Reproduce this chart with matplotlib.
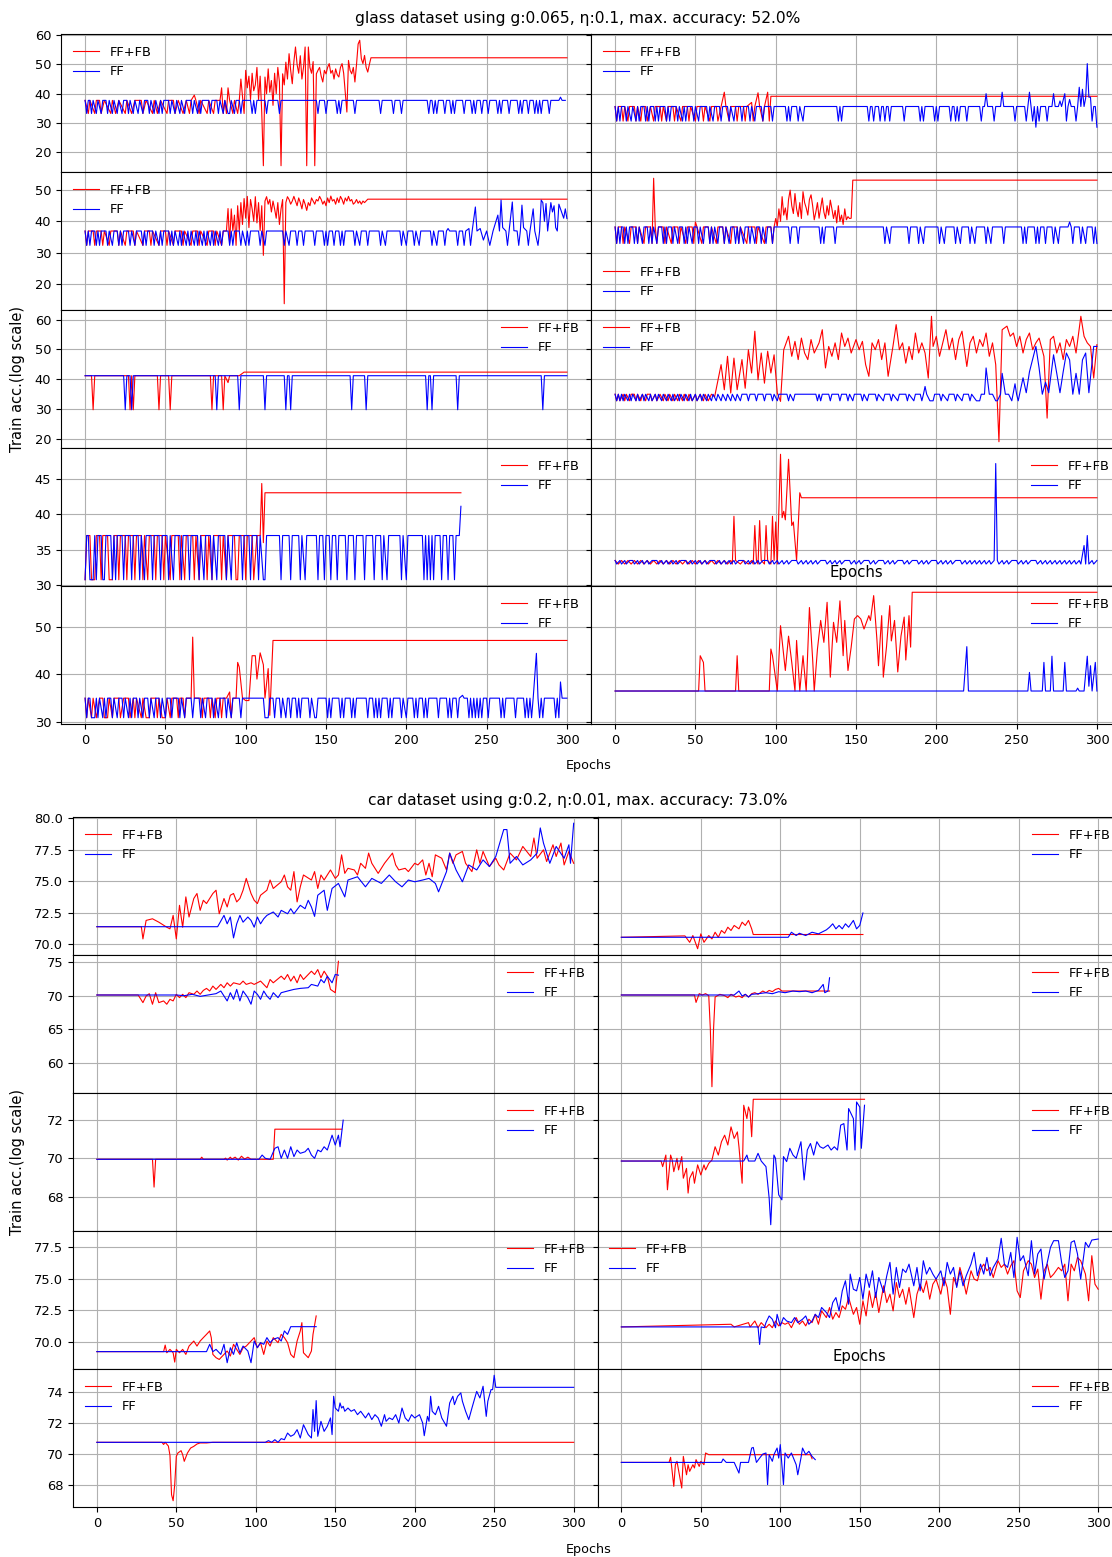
"""Train accuracy per epoch, FF vs FF+FB, for the glass and car datasets.

Two blocks of 5x2 panels, rows share the y axis. Values read off the
reference figure (epoch, accuracy) pairs.
"""
import matplotlib
matplotlib.use('Agg')
import matplotlib.pyplot as plt
import numpy as np

plt.rcParams['font.size'] = 9.4

W, H = 1112, 1557

# ---------------------------------------------------------------- glass data
g1l_fb = [(0,37.7),(2,33.2),(3,37.7),(6,33.2),(7,37.7),(9,37.7),(10,33.2),(12,37.7),(16,33.2),(17,37.7),(19,33.2),(21,37.7),(25,33.2),(26,37.7),(29,33.2),(31,37.7),(35,37.7),(36,33.2),(38,37.7),(42,33.2),(43,37.7),(45,33.2),(47,37.7),(51,33.2),(52,37.7),(55,37.7),(56,33.2),(58,37.7),(61,33.2),(63,37.7),(65,33.2),(66,37.7),(68,39.5),(69,37.7),(71,33.2),(72,37.7),(76,33.2),(77,37.7),(80,33.2),(81,37.7),(84,37.7),(85,42.0),(86,33.2),(87,37.7),(88,33.2),(89,42.0),(90,37.7),(92,33.2),(93,37.7),(95,33.2),(96,37.7),(97,45.0),(99,33.2),
          (100,48.0),(101,42.0),(102,46.0),(103,38.0),(104,47.0),(105,41.0),(106,43.0),(107,49.0),(108,38.0),(109,46.0),(110,33.5),(111,15.3),(112,45.7),(113,40.0),(114,48.5),(115,40.5),(116,44.5),(117,36.0),(118,47.0),(119,40.0),(120,49.0),(121,44.0),(122,15.3),(123,46.8),(124,43.0),(125,50.8),(126,45.0),(127,53.7),(128,48.0),(129,43.4),(130,51.0),(131,56.0),(132,50.0),(133,47.0),(134,53.0),(135,45.0),(136,49.0),(137,56.0),(138,15.3),(139,56.0),(140,49.0),(141,47.0),(142,51.0),(143,15.3),(144,46.8),(145,48.0),(146,49.0),(147,46.0),(148,44.0),(149,48.0),(150,46.8),(151,49.0),(152,50.3),(153,47.0),(154,48.0),(155,45.0),(156,48.5),(157,46.5),(158,45.7),(159,49.0),(160,50.3),(161,47.0),(162,40.5),(163,33.7),(164,51.4),(165,48.0),(166,46.8),(167,49.0),(168,44.0),(169,50.0),(170,57.0),(171,58.3),(172,52.0),(173,50.3),(174,53.1),(175,49.0),(176,47.4),(177,50.0),(178,52.3),(180,52.3),(300,52.3)]
g1l_ff = [(0,37.7),(1,33.2),(2,37.7),(3,37.7),(4,33.2),(5,37.7),(7,33.2),(8,37.7),(10,33.2),(11,37.7),(13,37.7),(14,33.2),(15,37.7),(17,33.2),(18,37.7),(20,33.2),(21,37.7),(23,33.2),(24,37.7),(26,37.7),(27,33.2),(28,37.7),(30,33.2),(31,37.7),(33,33.2),(34,37.7),(36,33.2),(37,37.7),(39,37.7),(40,33.2),(41,37.7),(43,33.2),(44,37.7),(46,33.2),(47,37.7),(48,33.2),(49,37.7),(52,37.7),(53,33.2),(54,37.7),(56,33.2),(57,37.7),(59,33.2),(60,37.7),(62,33.2),(63,37.7),(66,37.7),(67,33.2),(68,37.7),(70,33.2),(71,37.7),(72,33.2),(73,37.7),(77,37.7),(78,33.2),(79,37.7),(82,37.7),(83,33.2),(84,37.7),(86,33.2),(87,37.7),(89,33.2),(90,33.2),(91,37.7),(93,33.2),(94,37.7),(96,37.7),(97,33.2),(98,37.7),
          (103,37.7),(104,33.2),(105,37.7),(106,33.2),(107,37.7),(112,37.7),(113,33.2),(114,37.7),(120,37.7),(121,33.2),(122,37.7),(144,37.7),(145,33.2),(146,37.7),(149,37.7),(150,33.2),(151,37.7),(156,37.7),(157,33.2),(158,37.7),(159,33.2),(160,37.7),(167,37.7),(168,33.2),(169,37.7),(183,37.7),(184,33.2),(185,37.7),(191,37.7),(192,33.2),(193,37.7),(196,37.7),(197,33.2),(198,37.7),(213,37.7),(214,33.2),(215,37.7),(216,37.7),(217,33.2),(218,37.7),(219,33.2),(220,37.7),(223,37.7),(224,33.2),(225,37.7),(227,37.7),(228,33.2),(229,37.7),(230,33.2),(231,37.7),(235,37.7),(236,33.2),(237,37.7),(240,37.7),(241,33.2),(242,37.7),(243,33.2),(244,37.7),(246,37.7),(247,33.2),(248,37.7),(250,37.7),(251,33.2),(252,37.7),(256,37.7),(257,33.2),(258,37.7),(259,33.2),(260,37.7),(263,37.7),(264,33.2),(265,37.7),(269,37.7),(270,33.2),(271,37.7),(272,33.2),(273,37.7),(275,37.7),(276,33.2),(277,37.7),(279,37.7),(280,33.2),(281,37.7),(282,33.2),(283,37.7),(284,33.2),(285,37.7),(288,37.7),(289,33.2),(290,37.7),(295,37.7),(296,38.8),(297,37.7),(299,37.7)]

g1r_fb = [(0,35.6),(1,30.6),(2,35.6),(4,35.6),(5,30.6),(6,35.6),(8,30.6),(9,35.6),(12,35.6),(13,30.6),(14,35.6),(16,30.6),(17,35.6),(19,35.6),(20,30.6),(22,35.6),(24,30.6),(25,35.6),(28,35.6),(29,30.6),(30,35.6),(32,30.6),(33,35.6),(36,35.6),(37,30.6),(38,35.6),(41,30.6),(42,35.6),(45,35.6),(46,30.6),(47,35.6),(50,30.6),(51,35.6),(54,35.6),(55,30.6),(56,35.6),(59,30.6),(60,35.6),(63,35.6),(64,30.6),(66,35.6),(68,40.5),(69,35.6),(71,30.6),(72,35.6),(75,35.6),(76,30.6),(77,35.6),(80,35.6),(81,30.6),(82,35.6),(85,37.0),(86,30.6),(87,35.6),(89,40.3),(90,35.6),(92,30.6),(93,35.6),(95,40.5),(96,30.6),(97,39.1),(300,39.1)]
g1r_ff = [(0,35.6),(1,30.6),(2,35.6),(3,30.6),(4,35.6),(6,35.6),(7,30.6),(8,35.6),(10,30.6),(11,35.6),(13,30.6),(14,35.6),(15,30.6),(16,35.6),(18,35.6),(19,30.6),(20,35.6),(21,30.6),(22,35.6),(24,35.6),(25,30.6),(26,35.6),(27,30.6),(28,35.6),(31,35.6),(32,30.6),(33,35.6),(34,30.6),(35,35.6),(38,35.6),(39,30.6),(40,35.6),(42,30.6),(43,35.6),(44,30.6),(45,35.6),(48,35.6),(49,30.6),(50,35.6),(52,30.6),(53,35.6),(57,35.6),(58,30.6),(59,35.6),(61,30.6),(62,35.6),(65,35.6),(66,30.6),(67,35.6),(70,35.6),(71,30.6),(72,35.6),(74,30.6),(75,35.6),(78,35.6),(79,30.6),(80,35.6),(83,35.6),(84,30.6),(85,35.6),(87,30.6),(88,35.6),(91,35.6),(92,30.6),(93,35.6),(97,35.6),(98,30.6),(99,35.6),
          (106,35.6),(107,30.6),(108,35.6),(109,30.6),(110,35.6),(113,35.6),(114,30.6),(115,35.6),(117,30.6),(118,35.6),(138,35.6),(139,30.6),(140,35.6),(141,30.6),(142,35.6),(157,35.6),(158,30.6),(159,35.6),(160,35.6),(161,30.6),(162,35.6),(164,35.6),(165,30.6),(166,35.6),(167,35.6),(168,30.6),(169,35.6),(170,35.6),(171,30.6),(172,35.6),(179,35.6),(180,30.6),(181,35.6),(189,35.6),(190,30.6),(191,35.6),(192,30.6),(193,35.6),(198,35.6),(199,30.6),(200,35.6),(201,30.6),(202,35.6),(208,35.6),(209,30.6),(210,35.6),(211,35.6),(212,30.6),(213,35.6),(214,30.6),(215,35.6),(218,35.6),(219,30.6),(220,35.6),(227,35.6),(228,30.6),(229,35.6),(230,35.6),(231,40.0),(232,35.6),(235,35.6),(236,30.6),(237,35.6),(240,35.6),(241,40.5),(242,35.6),(248,35.6),(249,30.6),(250,35.6),(255,35.6),(256,30.6),(257,35.6),(258,40.5),(259,35.6),(260,30.6),(261,35.6),(262,28.5),(263,35.6),(264,30.6),(265,35.6),(268,35.6),(269,30.6),(270,35.6),(272,35.6),(273,40.0),(274,35.6),(276,35.6),(277,37.5),(278,35.6),(280,40.0),(281,30.6),(282,35.6),(283,38.0),(284,35.6),(286,35.6),(287,30.6),(288,35.6),(289,42.2),(290,35.6),(291,41.5),(292,35.6),(293,38.5),(294,50.3),(295,38.8),(296,38.8),(297,30.6),(298,35.6),(299,35.6),(300,28.5)]

g2l_fb = [(0,36.9),(1,32.3),(2,36.9),(5,36.9),(6,32.3),(7,36.9),(10,36.9),(11,32.3),(12,36.9),(15,32.3),(16,36.9),(20,36.9),(21,32.3),(22,36.9),(25,32.3),(26,36.9),(30,36.9),(31,32.3),(32,36.9),(36,32.3),(37,36.9),(40,36.9),(41,32.3),(42,36.9),(46,32.3),(47,36.9),(50,36.9),(51,32.3),(52,36.9),(55,32.3),(56,36.9),(60,36.9),(61,32.3),(62,36.9),(66,32.3),(67,36.9),(70,36.9),(71,32.3),(72,36.9),(76,32.3),(77,36.9),(80,36.9),(81,32.3),(82,36.9),(85,32.3),(86,36.9),(88,36.9),
          (89,44.1),(90,33.0),(91,44.0),(92,36.9),(93,42.0),(94,32.3),(95,45.0),(96,36.9),(97,46.0),(98,39.0),(99,47.3),(100,41.0),(101,48.0),(102,38.0),(103,47.0),(104,44.0),(105,40.0),(106,47.9),(107,39.5),(108,46.0),(109,37.0),(110,45.0),(111,29.1),(112,46.5),(113,47.9),(114,45.5),(115,47.0),(116,43.0),(117,46.5),(118,44.0),(119,41.0),(120,46.0),(121,39.0),(122,44.0),(123,47.0),(124,13.6),(125,46.0),(126,47.9),(127,47.0),(128,45.5),(129,46.5),(130,48.0),(131,46.5),(132,45.0),(133,47.5),(134,46.0),(135,44.0),(136,47.0),(137,45.5),(138,43.5),(139,46.0),(140,45.0),(141,47.5),(142,46.5),(143,45.5),(144,47.0),(145,46.5),(146,48.0),(147,47.0),(148,45.5),(149,46.5),(150,45.0),(151,47.5),(152,46.0),(153,48.1),(154,46.5),(155,47.0),(156,45.5),(157,47.5),(158,46.0),(159,48.0),(160,47.0),(161,45.5),(162,47.5),(163,46.5),(164,48.0),(165,46.5),(166,47.0),(167,45.5),(168,46.0),(169,47.0),(170,45.8),(171,46.5),(172,45.5),(173,46.5),(174,46.0),(176,47.1),(300,47.1)]
g2l_ff = [(0,36.9),(1,32.3),(2,36.9),(3,32.3),(4,36.9),(6,36.9),(7,32.3),(8,36.9),(9,32.3),(10,36.9),(13,36.9),(14,32.3),(15,36.9),(17,32.3),(18,36.9),(20,36.9),(21,32.3),(22,36.9),(23,32.3),(24,36.9),(27,36.9),(28,32.3),(29,36.9),(31,32.3),(32,36.9),(35,36.9),(36,32.3),(37,36.9),(38,32.3),(39,36.9),(42,36.9),(43,32.3),(44,36.9),(46,32.3),(47,36.9),(48,32.3),(49,36.9),(52,36.9),(53,32.3),(54,36.9),(55,32.3),(56,36.9),(58,32.3),(59,36.9),(60,32.3),(61,36.9),(63,32.3),(64,36.9),(65,32.3),(66,36.9),(68,32.3),(69,36.9),(70,32.3),(71,36.9),(73,32.3),(74,36.9),(75,32.3),(76,36.9),(78,32.3),(79,36.9),(80,32.3),(81,36.9),(83,32.3),(84,36.9),(85,32.3),(86,36.9),(89,36.9),(90,32.3),(91,36.9),(92,32.3),(93,36.9),(96,36.9),(97,32.3),(98,36.9),(100,32.3),(101,36.9),(102,32.3),(103,36.9),
          (108,36.9),(109,32.3),(110,36.9),(112,32.3),(113,36.9),(123,36.9),(124,32.3),(125,36.9),(127,32.3),(128,36.9),(131,36.9),(132,32.3),(133,36.9),(135,36.9),(136,32.3),(137,36.9),(142,36.9),(143,32.3),(144,36.9),(148,36.9),(149,32.3),(150,36.9),(151,32.3),(152,36.9),(154,36.9),(155,32.3),(156,36.9),(158,36.9),(159,32.3),(160,36.9),(161,32.3),(162,36.9),(167,36.9),(168,32.3),(169,36.9),(171,32.3),(172,36.9),(175,36.9),(176,32.3),(177,36.9),(183,36.9),(184,32.3),(185,36.9),(187,32.3),(188,36.9),(196,36.9),(197,32.3),(198,36.9),(200,32.3),(201,36.9),(204,36.9),(205,32.3),(206,36.9),(208,32.3),(209,36.9),(215,36.9),(216,32.3),(217,36.9),(219,32.3),(220,36.9),(223,36.9),(224,32.3),(225,36.9),(226,37.7),(227,36.9),(231,36.9),(232,32.3),(233,36.9),(235,36.9),(236,32.3),(237,36.9),(239,37.7),(240,32.3),(241,36.9),
          (243,44.6),(244,36.9),(246,37.7),(248,34.0),(250,36.9),(252,32.3),(254,36.9),(257,42.0),(258,36.9),(259,46.8),(260,38.0),(262,36.9),(263,32.3),(264,36.9),(266,46.2),(267,37.0),(269,36.9),(270,32.3),(271,36.9),(272,45.2),(273,38.0),(275,36.9),(276,32.3),(277,36.9),(279,44.0),(280,36.9),(282,32.3),(283,36.9),(284,46.8),(285,46.0),(286,40.0),(287,45.7),(288,36.9),(290,46.0),(291,43.0),(292,45.0),(293,38.0),(294,36.9),(295,45.5),(296,44.0),(298,41.0),(299,44.0),(300,40.9)]

g2r_fb = [(0,38.2),(1,32.9),(2,38.2),(4,38.2),(5,32.9),(6,38.2),(9,32.9),(10,38.2),(13,38.2),(14,32.9),(15,38.2),(18,32.9),(19,38.2),(22,38.2),(23,32.9),(24,53.8),(25,38.2),(26,32.9),(27,38.2),(30,38.2),(31,32.9),(32,38.2),(35,32.9),(36,38.2),(39,38.2),(40,32.9),(41,38.2),(44,32.9),(45,38.2),(48,38.2),(49,32.9),(50,39.8),(51,38.2),(54,32.9),(55,38.2),(58,38.2),(59,32.9),(60,38.2),(63,32.9),(64,38.2),(67,38.2),(68,32.9),(69,38.2),(72,32.9),(73,38.2),(76,38.2),(77,32.9),(78,38.2),(82,32.9),(83,38.2),(87,38.2),(88,32.9),(89,38.2),(93,32.9),(94,38.2),(97,38.2),(98,32.9),(99,38.2),
          (100,40.9),(101,38.5),(102,44.0),(103,40.0),(104,47.9),(105,42.0),(106,44.3),(107,40.5),(108,47.0),(109,50.0),(110,45.0),(111,42.5),(112,48.9),(113,44.0),(114,41.5),(115,46.0),(116,40.9),(117,49.5),(118,46.0),(119,44.3),(120,42.0),(121,47.0),(122,48.5),(123,45.0),(124,40.5),(125,43.0),(126,46.0),(127,41.0),(128,44.3),(129,47.5),(130,43.0),(131,40.9),(132,45.0),(133,42.0),(134,46.8),(135,44.0),(136,40.9),(137,43.5),(138,39.5),(139,45.0),(140,40.0),(141,42.0),(142,39.0),(143,44.0),(144,40.5),(145,41.5),(146,40.9),(147,41.0),(148,53.2),(300,53.2)]
g2r_ff = [(0,38.2),(1,32.9),(2,38.2),(3,32.9),(4,38.2),(5,38.2),(6,32.9),(7,38.2),(8,32.9),(9,38.2),(11,38.2),(12,32.9),(13,38.2),(14,32.9),(15,38.2),(17,32.9),(18,38.2),(20,38.2),(21,32.9),(22,38.2),(23,32.9),(24,38.2),(26,32.9),(27,38.2),(29,38.2),(30,32.9),(31,38.2),(32,32.9),(33,38.2),(35,38.2),(36,32.9),(37,38.2),(39,32.9),(40,38.2),(42,38.2),(43,32.9),(44,38.2),(45,32.9),(46,38.2),(48,32.9),(49,38.2),(51,38.2),(52,32.9),(53,38.2),(55,32.9),(56,38.2),(58,38.2),(59,32.9),(60,38.2),(61,32.9),(62,38.2),(64,32.9),(65,38.2),(67,38.2),(68,32.9),(69,38.2),(71,32.9),(72,38.2),(74,38.2),(75,32.9),(76,38.2),(77,32.9),(78,38.2),(80,32.9),(81,38.2),(83,38.2),(84,32.9),(85,38.2),(87,32.9),(88,38.2),(90,38.2),(91,32.9),(92,38.2),(94,32.9),(95,38.2),(97,38.2),(98,32.9),(99,38.2),
          (108,38.2),(109,32.9),(110,38.2),(113,38.2),(114,32.9),(115,38.2),(127,38.2),(128,32.9),(129,38.2),(130,32.9),(131,38.2),(136,38.2),(137,32.9),(138,38.2),(167,38.2),(168,32.9),(169,38.2),(171,32.9),(172,38.2),(182,38.2),(183,32.9),(184,38.2),(188,38.2),(189,32.9),(190,38.2),(192,32.9),(193,38.2),(201,38.2),(202,32.9),(203,38.2),(205,32.9),(206,38.2),(211,38.2),(212,32.9),(213,38.2),(215,32.9),(216,38.2),(220,38.2),(221,32.9),(222,38.2),(224,32.9),(225,38.2),(230,38.2),(231,32.9),(232,38.2),(234,32.9),(235,38.2),(241,38.2),(242,32.9),(243,38.2),(253,38.2),(254,32.9),(255,38.2),(256,32.9),(257,38.2),(261,38.2),(262,32.9),(263,38.2),(264,32.9),(265,38.2),(267,38.2),(268,32.9),(269,38.2),(272,38.2),(273,32.9),(274,38.2),(276,32.9),(277,38.2),(282,38.2),(283,39.8),(284,38.2),(285,32.9),(286,38.2),(289,38.2),(290,32.9),(291,38.2),(293,32.9),(294,38.2),(297,38.2),(298,32.9),(299,38.2),(300,32.9)]

g3l_fb = [(0,41.2),(4,41.2),(5,29.8),(6,41.2),(27,41.2),(28,29.8),(29,41.2),(30,29.8),(31,41.2),(45,41.2),(46,29.8),(47,41.2),(52,41.2),(53,29.8),(54,41.2),(78,41.2),(79,29.8),(80,41.2),(85,41.2),(86,29.8),(87,41.2),(89,38.9),(90,41.2),(96,41.2),(99,42.4),(300,42.4)]
g3l_ff = [(0,41.2),(24,41.2),(25,29.8),(26,41.2),(28,41.2),(29,29.8),(30,41.2),(81,41.2),(82,29.8),(83,41.2),(95,41.2),(96,29.8),(97,41.2),(111,41.2),(112,29.8),(113,41.2),(124,41.2),(125,29.8),(126,41.2),(127,41.2),(128,29.8),(129,41.2),(165,41.2),(166,29.8),(167,41.2),(174,41.2),(175,29.8),(176,41.2),(212,41.2),(213,29.8),(214,41.2),(215,41.2),(216,29.8),(217,41.2),(231,41.2),(232,29.8),(233,41.2),(284,41.2),(285,29.8),(286,41.2),(300,41.2)]

g3r_fb = [(0,35.0),(1,32.8),(2,35.0),(3,32.8),(5,35.0),(6,32.8),(7,35.0),(9,32.8),(10,35.0),(12,35.0),(13,32.8),(14,35.0),(16,32.8),(17,35.0),(19,32.8),(20,35.0),(22,35.0),(23,32.8),(25,35.0),(26,32.8),(28,35.0),(30,32.8),(31,35.0),(33,32.8),(34,35.0),(36,32.8),(37,35.0),(39,32.8),(40,35.0),(42,32.8),(43,35.0),(45,32.8),(46,35.0),(48,32.8),(50,35.0),(51,32.8),(53,35.0),(55,32.8),(56,35.0),(58,32.8),(60,35.0),(62,34.2),
          (66,44.9),(68,36.5),(70,47.7),(72,35.4),(74,47.1),(76,36.5),(79,46.6),(81,37.0),(83,49.9),(85,42.1),(87,56.1),(89,39.8),(91,48.8),(93,38.7),(95,49.4),(97,42.1),(99,48.2),(101,35.4),(103,32.6),(105,49.9),(108,54.4),(110,47.7),(112,52.7),(114,46.6),(116,53.8),(118,48.8),(120,46.6),(122,53.3),(124,48.8),(127,52.2),(129,56.6),(131,43.8),(133,51.0),(135,47.7),(137,52.2),(139,46.6),(141,55.5),(143,51.0),(145,53.8),(147,48.8),(150,53.3),(152,49.9),(154,52.7),(156,44.9),(158,41.0),(160,52.2),(162,49.9),(164,53.3),(166,46.6),(168,52.2),(170,41.0),(173,51.0),(175,58.3),(177,49.9),(179,52.2),(181,45.4),(183,51.0),(185,46.6),(187,55.5),(189,48.8),(191,52.2),(193,48.8),(195,40.4),(197,61.1),(198,51.0),(200,54.4),(202,47.7),(204,52.2),(206,56.6),(208,49.9),(210,53.8),(212,46.6),(214,53.3),(216,56.1),(219,44.3),(221,52.2),(223,54.4),(225,48.8),(227,53.3),(229,51.0),(231,55.5),(233,47.7),(235,52.2),(237,44.9),(239,19.1),(241,56.6),(244,57.8),(246,54.4),(248,55.5),(250,51.0),(252,54.4),(254,48.8),(256,53.3),(258,55.5),(260,49.9),(262,52.2),(264,53.8),(267,47.7),(269,27.0),(271,53.3),(273,54.4),(275,48.8),(277,52.2),(279,46.6),(281,53.3),(283,51.0),(285,54.4),(287,48.8),(290,61.1),(292,54.4),(294,52.2),(296,51.0),(298,40.4),(300,51.6)]
g3r_ff = [(0,35.0),(1,32.8),(2,35.0),(3,32.8),(4,35.0),(5,32.8),(6,35.0),(8,32.8),(9,35.0),(10,32.8),(11,35.0),(13,32.8),(14,35.0),(15,32.8),(17,35.0),(18,32.8),(19,35.0),(21,32.8),(22,35.0),(23,32.8),(25,35.0),(26,32.8),(27,35.0),(29,32.8),(30,35.0),(32,32.8),(33,35.0),(35,32.8),(36,35.0),(37,32.8),(39,35.0),(40,32.8),(41,35.0),(43,32.8),(44,35.0),(46,32.8),(47,35.0),(48,32.8),(50,35.0),(51,32.8),(53,35.0),(54,32.8),(55,35.0),(57,32.8),(58,35.0),(60,32.8),(61,35.0),(63,32.8),(64,35.0),(66,32.8),(67,35.0),(69,32.8),(70,35.0),(72,32.8),(73,35.0),(75,32.8),(76,35.0),(78,32.8),(79,35.0),(82,35.0),(83,32.8),(84,35.0),(87,35.0),(88,32.8),(89,35.0),(92,35.0),(93,32.8),(94,35.0),(97,35.0),(98,32.8),(99,35.0),(101,32.8),(102,35.0),
          (107,35.0),(108,32.8),(109,35.0),(111,32.8),(112,35.0),(125,35.0),(126,32.8),(127,35.0),(128,32.8),(129,35.0),(133,35.0),(134,32.8),(135,35.0),(139,35.0),(140,32.8),(141,35.0),(144,35.0),(145,32.8),(146,35.0),(148,32.8),(149,35.0),(153,35.0),(154,32.8),(155,35.0),(157,32.8),(158,35.0),(162,35.0),(163,32.8),(164,35.0),(167,32.8),(168,35.0),(171,35.0),(172,32.8),(173,35.0),(176,32.8),(177,35.0),(181,35.0),(182,32.8),(183,35.0),(186,32.8),(187,35.0),(190,35.0),(191,32.8),(192,35.0),(193,37.6),(194,35.0),(196,32.8),(198,32.8),(199,35.0),(202,35.0),(203,32.8),(204,35.0),(207,32.8),(208,35.0),(211,35.0),(212,32.8),(213,35.0),(216,32.8),(217,35.0),(220,35.0),(221,32.8),(222,35.0),(225,32.8),(227,32.8),(228,35.0),(230,35.0),
          (231,43.8),(233,35.0),(235,35.0),(237,32.8),(238,32.8),(240,35.0),(241,42.0),(243,35.0),(245,35.0),(247,32.8),(249,38.5),(250,35.0),(251,32.8),(254,40.5),(256,35.5),(258,42.5),(262,51.0),(264,43.8),(266,35.0),(268,39.0),(270,35.5),(273,48.2),(275,42.0),(277,35.5),(279,42.5),(281,48.8),(283,46.5),(285,35.0),(287,42.0),(289,35.0),(291,46.5),(293,48.8),(295,35.5),(298,51.0),(300,51.0)]

g4l_fb = [(0,30.8),(1,37.0),(3,37.0),(4,30.8),(6,30.8),(7,37.0),(9,37.0),(10,30.8),(11,37.0),(14,37.0),(15,30.8),(17,30.8),(18,37.0),(20,37.0),(21,30.8),(22,37.0),(25,37.0),(26,30.8),(27,37.0),(30,37.0),(31,30.8),(32,37.0),(35,37.0),(36,30.8),(37,37.0),(39,30.8),(40,37.0),(43,37.0),(44,30.8),(45,37.0),(48,37.0),(49,30.8),(50,37.0),(53,30.8),(54,37.0),(58,37.0),(59,30.8),(60,37.0),(62,30.8),(63,37.0),(67,37.0),(68,30.8),(69,37.0),(71,30.8),(72,37.0),(75,37.0),(76,30.8),(77,37.0),(79,30.8),(80,37.0),(84,37.0),(85,30.8),(86,37.0),(88,30.8),(89,37.0),(93,37.0),(94,30.8),(95,30.8),(96,37.0),(99,37.0),(100,30.8),(101,37.0),(104,37.0),(105,30.8),(107,37.0),(109,37.0),(110,44.3),(111,36.0),(112,43.0),(234,43.0)]
g4l_ff = [(0,30.8),(1,37.0),(2,37.0),(3,30.8),(5,30.8),(6,37.0),(7,30.8),(8,37.0),(10,37.0),(11,30.8),(12,30.8),(13,37.0),(16,37.0),(17,30.8),(18,37.0),(19,30.8),(20,37.0),(23,37.0),(24,30.8),(25,37.0),(28,37.0),(29,30.8),(30,37.0),(33,37.0),(34,30.8),(35,37.0),(37,30.8),(38,37.0),(41,37.0),(42,30.8),(43,37.0),(46,37.0),(47,30.8),(48,37.0),(51,37.0),(52,30.8),(53,37.0),(55,30.8),(56,37.0),(59,37.0),(60,30.8),(61,37.0),(64,37.0),(65,30.8),(66,37.0),(70,37.0),(71,30.8),(72,37.0),(74,30.8),(75,37.0),(78,37.0),(79,30.8),(80,37.0),(82,30.8),(83,37.0),(87,37.0),(88,30.8),(89,37.0),(91,30.8),(92,37.0),(97,37.0),(98,30.8),(99,37.0),(102,37.0),(103,30.8),(104,37.0),(107,37.0),(108,30.8),(109,37.0),(111,30.8),(112,30.8),(113,37.0),
          (121,37.0),(122,30.8),(123,37.0),(127,37.0),(128,30.8),(129,37.0),(133,37.0),(134,30.8),(135,37.0),(137,30.8),(138,37.0),(144,37.0),(145,30.8),(146,37.0),(148,37.0),(149,30.8),(150,37.0),(152,37.0),(153,30.8),(154,37.0),(156,37.0),(157,30.8),(158,37.0),(162,37.0),(163,30.8),(164,37.0),(167,37.0),(168,30.8),(169,37.0),(173,37.0),(174,30.8),(175,37.0),(179,37.0),(180,30.8),(181,37.0),(184,37.0),(185,30.8),(186,37.0),(188,30.8),(189,37.0),(196,37.0),(197,30.8),(198,37.0),(200,30.8),(201,37.0),(210,37.0),(211,30.8),(212,37.0),(213,30.8),(214,37.0),(215,30.8),(216,37.0),(217,30.8),(218,37.0),(221,37.0),(222,30.8),(223,37.0),(225,37.0),(226,30.8),(227,37.0),(229,37.0),(230,30.8),(231,37.0),(233,37.0),(234,41.1)]

g4r_fb = [(0,33.5),(2,33.0),(4,33.5),(6,33.0),(8,33.5),(10,33.0),(12,33.5),(14,33.0),(16,33.5),(18,33.0),(20,33.5),(22,33.0),(24,33.5),(26,33.0),(28,33.5),(30,33.0),(32,33.5),(34,33.0),(36,33.5),(38,33.0),(40,33.5),(42,33.0),(44,33.5),(46,33.0),(48,33.5),(50,33.0),(52,33.5),(54,33.0),(56,33.5),(58,33.0),(60,33.5),(62,33.0),(64,33.5),(66,33.0),(68,33.5),(70,33.0),(72,33.5),(73,33.0),(74,39.7),(75,33.5),(78,33.0),(80,33.5),(83,33.0),(85,33.5),(86,33.0),(87,38.4),(88,33.5),(89,33.0),(90,39.1),(91,33.5),(93,33.0),(94,38.4),(95,33.5),(97,33.0),(98,39.7),(99,33.5),(100,38.9),(101,33.0),(103,48.4),(104,39.5),(105,40.4),(106,39.2),(108,47.7),(110,38.4),(111,38.9),(113,33.5),(115,43.0),(116,42.3),(300,42.3)]
g4r_ff = [(0,33.5),(1,33.0),(3,33.5),(4,33.0),(6,33.5),(7,33.0),(9,33.5),(11,33.5),(12,33.0),(14,33.5),(15,33.0),(17,33.5),(18,33.0),(20,33.5),(21,33.0),(23,33.5),(26,33.5),(27,33.0),(29,33.5),(30,33.0),(32,33.5),(33,33.0),(35,33.5),(36,33.0),(38,33.5),(39,33.0),(41,33.5),(44,33.5),(45,33.0),(47,33.5),(48,33.0),(50,33.5),(51,33.0),(53,33.5),(54,33.0),(56,33.5),(57,33.0),(59,33.5),(62,33.5),(63,33.0),(65,33.5),(66,33.0),(68,33.5),(69,33.0),(71,33.5),(72,33.0),(74,33.5),(75,33.0),(77,33.5),(80,33.5),(81,33.0),(83,33.5),(84,33.0),(86,33.5),(87,33.0),(89,33.5),(90,33.0),(92,33.5),(95,33.5),(96,33.0),(98,33.5),(99,33.0),(101,33.5),(102,33.0),(104,33.5),(105,33.0),(107,33.5),(108,33.0),(110,33.5),(113,33.5),(114,33.0),(116,33.5),(117,33.0),(119,33.5),(120,33.0),(122,33.5),(123,33.0),(125,33.5),(126,33.0),(128,33.5),(131,33.5),(132,33.0),(134,33.5),(135,33.0),(137,33.5),(138,33.0),(140,33.5),(141,33.0),(143,33.5),(146,33.5),(147,33.0),(149,33.5),(150,33.0),(152,33.5),(153,33.0),(155,33.5),(158,33.5),(159,33.0),(161,33.5),(162,33.0),(164,33.5),(167,33.5),(168,33.0),(170,33.5),(171,33.0),(173,33.5),(174,33.0),(176,33.5),(179,33.5),(180,33.0),(182,33.5),(183,33.0),(185,33.5),(188,33.5),(189,33.0),(191,33.5),(192,33.0),(194,33.5),(195,33.0),(197,33.5),(200,33.5),(201,33.0),(203,33.5),(204,33.0),(206,33.5),(207,33.0),(209,33.5),(210,33.0),(212,33.5),(215,33.5),(216,33.0),(218,33.5),(219,33.0),(221,33.5),(222,33.0),(224,33.5),(225,33.0),(227,33.5),(228,33.0),(230,33.5),(231,33.0),(233,33.5),(234,33.0),(236,33.5),(237,47.1),(238,33.5),(239,33.0),(241,33.5),(242,33.0),(244,33.5),(245,33.0),(247,33.5),(250,33.5),(251,33.0),(253,33.5),(254,33.0),(256,33.5),(257,33.0),(259,33.5),(262,33.5),(263,33.0),(265,33.5),(266,33.0),(268,33.5),(269,33.0),(271,33.5),(272,33.0),(274,33.5),(275,33.0),(277,33.5),(278,33.0),(280,33.5),(281,33.0),(283,33.5),(284,33.0),(286,33.5),(287,33.0),(289,33.5),(290,33.0),(292,35.6),(293,33.0),(294,37.0),(295,33.0),(297,33.5),(298,33.0),(300,33.5)]

g5l_fb = [(0,35.0),(1,30.9),(2,35.0),(4,30.9),(5,35.0),(7,30.9),(9,35.0),(11,35.0),(12,30.9),(14,30.9),(15,35.0),(17,30.9),(18,35.0),(21,35.0),(22,30.9),(24,35.0),(27,35.0),(28,30.9),(30,35.0),(31,30.9),(32,35.0),(35,30.9),(36,35.0),(38,30.9),(40,30.9),(41,35.0),(44,35.0),(45,30.9),(46,35.0),(48,30.9),(50,30.9),(51,35.0),(53,30.9),(54,35.0),(57,35.0),(58,30.9),(59,35.0),(61,35.0),(62,30.9),(63,35.0),(66,35.0),(67,47.8),(68,35.0),(72,35.0),(73,30.9),(74,35.0),(77,35.0),(78,30.9),(79,35.0),(81,30.9),(82,35.0),(84,35.0),(85,30.9),(86,35.0),(88,35.0),(90,36.3),(91,30.9),(92,35.0),(94,35.0),(95,42.5),(96,41.5),(98,35.0),(100,34.5),(102,34.5),(104,43.9),(106,43.9),(107,39.0),(109,44.5),(111,42.0),(112,35.0),(114,41.2),(115,31.4),(117,47.1),(300,47.1)]
g5l_ff = [(0,35.0),(1,30.9),(2,35.0),(3,35.0),(4,30.9),(6,30.9),(7,35.0),(8,30.9),(9,35.0),(11,30.9),(12,35.0),(13,30.9),(14,35.0),(16,35.0),(17,30.9),(18,35.0),(20,30.9),(21,35.0),(23,35.0),(24,30.9),(25,35.0),(27,30.9),(28,35.0),(29,30.9),(30,35.0),(32,35.0),(33,30.9),(34,35.0),(36,30.9),(37,35.0),(39,35.0),(40,30.9),(41,35.0),(43,30.9),(44,35.0),(46,35.0),(47,30.9),(48,35.0),(50,30.9),(51,35.0),(53,35.0),(54,30.9),(55,35.0),(58,35.0),(59,30.9),(60,35.0),(62,30.9),(63,35.0),(66,35.0),(67,30.9),(68,35.0),(71,35.0),(72,30.9),(73,35.0),(75,30.9),(76,35.0),(79,35.0),(80,30.9),(81,35.0),(83,30.9),(84,35.0),(87,35.0),(88,30.9),(89,35.0),(91,30.9),(92,35.0),(96,35.0),(97,30.9),(98,35.0),(100,35.0),(111,35.0),(112,30.9),(114,30.9),(115,35.0),
          (117,35.0),(118,30.9),(119,35.0),(121,35.0),(122,30.9),(123,35.0),(125,30.9),(126,35.0),(127,35.0),(128,30.9),(129,35.0),(131,35.0),(132,30.9),(133,35.0),(134,30.9),(135,35.0),(139,35.0),(140,30.9),(141,35.0),(143,30.9),(144,30.9),(145,35.0),(150,35.0),(151,30.9),(152,35.0),(153,30.9),(154,35.0),(158,35.0),(159,30.9),(160,35.0),(161,30.9),(162,35.0),(165,35.0),(166,30.9),(167,35.0),(168,30.9),(169,35.0),(175,35.0),(176,30.9),(177,35.0),(179,35.0),(180,30.9),(181,35.0),(182,30.9),(183,35.0),(184,30.9),(185,35.0),(188,35.0),(189,30.9),(190,35.0),(191,30.9),(192,35.0),(196,35.0),(197,30.9),(198,35.0),(200,30.9),(201,35.0),(204,35.0),(205,30.9),(206,35.0),(207,30.9),(208,35.0),(210,35.0),(211,30.9),(212,35.0),(213,30.9),(214,35.0),(219,35.0),(220,30.9),(221,35.0),(225,35.0),(226,30.9),(227,35.0),(228,30.9),(229,35.0),(231,35.0),(232,30.9),(233,35.0),(235,35.6),(236,35.0),(238,35.0),(239,30.9),(240,35.0),(241,30.9),(242,35.0),(243,30.9),(244,35.0),(245,30.9),(246,35.0),(247,30.9),(248,35.0),(250,35.0),(251,30.9),(252,35.0),(258,35.0),(259,30.9),(260,35.0),(261,30.9),(262,35.0),(267,35.0),(268,30.9),(269,35.0),(273,35.0),(274,30.9),(275,35.0),(276,30.9),(277,35.0),(278,30.9),(279,35.0),(281,44.4),(282,35.0),(283,30.9),(284,35.0),(285,30.9),(286,35.0),(292,35.0),(293,30.9),(294,35.0),(295,30.9),(296,38.4),(297,35.0),(300,35.0)]

g5r_fb = [(0,36.5),(52,36.5),(53,43.9),(55,42.5),(56,36.5),(75,36.5),(76,43.9),(77,36.5),(96,36.5),(97,45.3),(98,43.9),(101,36.5),(103,50.2),(106,40.8),(108,48.0),(110,42.5),(112,36.5),(113,47.1),(115,36.5),(117,43.9),(119,36.5),(121,54.0),(123,43.2),(124,36.5),(126,45.3),(128,51.3),(130,46.7),(132,55.1),(134,39.4),(136,50.9),(138,46.7),(140,55.4),(142,43.9),(143,51.3),(145,40.8),(147,45.7),(149,51.6),(151,52.3),(153,51.6),(155,49.5),(158,52.3),(159,51.3),(161,56.5),(163,47.4),(164,41.8),(166,52.3),(167,39.4),(169,45.8),(171,54.4),(172,47.0),(174,51.3),(176,40.5),(178,48.0),(180,52.0),(181,43.0),(183,52.3),(184,45.7),(185,57.2),(300,57.2)]
g5r_ff = [(0,36.5),(217,36.5),(219,45.8),(220,36.5),(257,36.5),(258,40.4),(259,36.5),(266,36.5),(267,42.5),(268,36.5),(271,36.5),(272,43.8),(273,36.5),(279,36.5),(280,42.5),(281,36.5),(287,36.5),(288,37.1),(289,36.5),(292,36.5),(294,43.8),(295,37.5),(296,41.8),(297,36.5),(299,42.5),(300,36.5)]

# ------------------------------------------------------------------ car data
c1l_fb = [(0,71.4),(28,71.4),(29,70.43),(31,71.9),(35,72.03),(39,71.76),(44,71.36),(46,71.23),(48,72.3),(50,70.43),(52,73.1),(54,71.36),(56,73.77),(58,72.17),(61,73.64),(63,74.04),(65,72.7),(67,73.5),(69,73.24),(73,74.04),(75,74.3),(77,72.43),(80,73.64),(82,72.97),(84,73.9),(86,74.04),(88,73.37),(90,73.64),(92,74.3),(94,75.24),(97,74.04),(99,73.5),(101,73.24),(103,73.9),(107,74.3),(109,75.11),(111,74.44),(116,74.97),(118,75.51),(120,74.57),(122,74.3),(124,75.78),(126,73.37),(128,74.57),(130,75.51),(135,75.11),(137,75.78),(139,74.44),(141,75.51),(143,75.11),(147,75.91),(150,75.24),(152,75.51),(154,77.11),(156,75.64),(158,76.04),(162,75.91),(164,75.51),(166,76.44),(169,76.04),(171,77.25),(173,76.44),(177,75.64),(181,76.44),(186,77.25),(188,76.31),(190,75.91),(194,76.04),(196,75.78),(200,76.44),(202,76.31),(205,76.71),(207,75.51),(209,76.44),(211,75.37),(213,77.11),(217,76.84),(220,75.91),(222,77.25),(224,76.44),(226,77.11),(230,77.38),(232,76.44),(236,75.78),(239,77.51),(241,76.44),(243,77.38),(247,76.18),(251,76.84),(253,76.31),(256,75.91),(260,77.25),(264,76.71),(268,77.78),(273,76.98),(275,78.45),(277,76.84),(281,77.51),(283,76.58),(287,77.91),(289,76.98),(292,78.05),(294,76.31),(297,77.38),(300,76.44)]
c1l_ff = [(0,71.4),(76,71.4),(80,72.3),(82,71.63),(84,72.17),(86,70.51),(88,71.63),(90,72.3),(92,71.76),(95,72.17),(97,71.9),(99,71.36),(101,72.17),(103,71.63),(105,72.03),(107,72.3),(111,72.57),(114,72.17),(116,72.7),(120,72.43),(122,72.83),(124,72.43),(128,73.1),(131,72.83),(133,73.5),(135,72.97),(137,72.22),(139,73.9),(143,74.3),(145,72.7),(148,74.44),(152,74.84),(156,73.77),(158,75.11),(164,75.37),(169,74.57),(173,75.24),(179,74.84),(184,75.51),(188,74.97),(192,74.57),(196,75.11),(200,74.97),(205,75.11),(209,75.24),(213,74.84),(215,74.17),(220,75.78),(222,77.25),(226,75.91),(230,74.97),(234,76.31),(239,75.91),(243,76.71),(247,76.18),(251,76.98),(256,79.12),(258,79.12),(260,76.44),(264,76.98),(268,76.31),(273,76.71),(277,77.25),(279,79.25),(281,78.05),(285,76.44),(289,77.78),(294,76.84),(297,77.91),(298,76.44),(300,79.62)]

c1r_fb = [(0,70.56),(40,70.67),(43,70.16),(45,70.7),(48,69.65),(50,70.83),(52,70.16),(55,70.7),(57,70.43),(59,70.96),(61,70.56),(63,71.1),(65,70.88),(67,71.36),(69,71.1),(71,71.5),(74,71.23),(76,71.76),(78,71.5),(80,71.9),(82,71.23),(83,70.78),(152,70.78)]
c1r_ff = [(0,70.56),(105,70.56),(107,70.96),(110,70.7),(112,70.88),(116,70.7),(120,70.96),(124,70.83),(129,71.15),(131,71.36),(133,71.63),(135,71.23),(137,71.5),(139,71.23),(141,71.63),(143,71.36),(146,71.9),(148,71.23),(150,71.5),(152,72.49)]

c2l_fb = [(0,70.1),(26,70.1),(29,68.97),(31,69.95),(33,70.29),(35,68.73),(37,70.44),(39,68.97),(42,69.22),(44,68.73),(46,69.46),(48,69.22),(50,70.2),(52,69.71),(54,70.2),(56,69.71),(58,70.44),(61,70.2),(63,70.69),(65,70.2),(67,70.78),(69,71.08),(71,70.69),(73,71.42),(75,70.93),(78,71.67),(80,71.18),(82,71.91),(84,71.42),(86,71.91),(90,71.67),(92,72.16),(94,71.67),(97,71.91),(99,71.67),(103,72.16),(107,71.18),(109,72.4),(111,71.91),(116,72.89),(118,72.4),(120,73.14),(122,72.16),(124,72.89),(126,71.91),(128,73.14),(130,72.4),(135,73.63),(137,73.14),(139,73.87),(141,72.65),(143,73.63),(145,72.89),(147,70.93),(150,70.44),(152,75.1)]
c2l_ff = [(0,70.1),(50,70.1),(55,70.0),(60,70.2),(65,69.9),(70,70.1),(75,70.3),(78,70.69),(82,69.22),(84,70.44),(86,69.46),(88,70.93),(90,69.22),(92,70.69),(95,69.71),(97,68.73),(99,70.69),(101,70.2),(103,69.46),(105,70.69),(107,69.95),(109,69.46),(111,70.44),(114,69.71),(116,70.44),(120,70.69),(124,70.93),(128,71.08),(133,71.18),(135,71.67),(139,71.42),(141,72.4),(143,71.91),(145,72.89),(148,71.91),(150,73.14),(152,73.04)]

c2r_fb = [(0,70.1),(46,70.1),(47,69.0),(49,70.3),(51,70.1),(53,70.3),(55,70.0),(56,65.0),(57,56.5),(58,65.0),(59,69.8),(62,70.2),(65,70.0),(67,69.71),(69,70.2),(72,69.8),(74,69.95),(76,69.71),(78,70.2),(80,69.8),(82,70.29),(84,70.44),(86,70.2),(89,70.69),(91,70.44),(93,70.78),(95,70.59),(97,70.93),(99,71.08),(101,70.69),(131,70.69)]
c2r_ff = [(0,70.1),(71,70.1),(74,70.69),(76,69.95),(78,70.2),(80,69.8),(82,70.2),(86,70.29),(91,70.44),(95,70.29),(99,70.59),(103,70.44),(108,70.69),(112,70.59),(116,70.69),(120,70.44),(124,70.78),(127,71.67),(128,70.44),(130,70.69),(131,72.65)]

c3l_fb = [(0,69.94),(35,69.94),(36,68.5),(37,69.94),(65,69.94),(66,70.05),(67,69.94),(80,69.94),(81,70.0),(82,69.9),(84,70.05),(85,69.95),(87,70.05),(89,69.9),(91,70.1),(93,69.95),(95,70.05),(97,69.94),(111,69.94),(112,71.5),(154,71.5)]
c3l_ff = [(0,69.94),(102,69.94),(104,70.16),(106,69.99),(109,69.94),(112,70.51),(114,70.59),(116,69.99),(118,70.42),(120,69.99),(122,70.59),(124,70.08),(126,70.42),(128,70.25),(131,70.33),(133,70.51),(135,70.16),(137,69.99),(139,70.42),(141,70.33),(143,70.59),(145,70.42),(148,71.19),(150,70.68),(152,71.19),(153,70.59),(155,71.97)]

c3r_fb = [(0,69.85),(25,69.85),(26,69.56),(28,70.16),(29,68.36),(31,70.16),(32,69.9),(33,69.3),(35,69.99),(36,69.39),(38,70.08),(39,68.96),(41,69.47),(42,68.19),(43,68.96),(45,69.3),(46,68.7),(48,69.65),(50,69.13),(52,69.65),(53,69.39),(55,69.73),(57,69.9),(59,70.59),(61,70.16),(63,70.85),(65,71.19),(67,70.68),(69,71.62),(71,71.02),(73,71.36),(74,70.59),(76,68.7),(77,72.74),(79,72.05),(80,72.65),(81,72.4),(82,71.11),(83,73.05),(153,73.05)]
c3r_ff = [(0,69.85),(77,69.85),(79,70.16),(80,69.85),(84,69.85),(86,70.25),(88,69.85),(91,69.56),(93,67.93),(94,66.55),(96,70.16),(97,69.99),(99,68.1),(101,67.84),(102,70.08),(104,69.82),(106,70.51),(108,70.16),(110,69.99),(113,70.85),(115,68.87),(117,70.42),(119,70.76),(121,70.16),(123,70.85),(125,70.59),(127,70.51),(130,70.68),(132,70.42),(134,70.59),(136,70.42),(138,71.71),(140,71.79),(142,70.42),(143,72.57),(146,72.05),(147,70.42),(148,72.91),(150,72.65),(151,70.51),(153,72.74)]

c4l_fb = [(0,69.23),(42,69.23),(43,69.75),(44,69.14),(46,69.41),(48,69.14),(49,68.4),(50,69.41),(52,69.14),(54,69.41),(56,69.01),(58,69.67),(61,70.07),(63,69.67),(65,70.07),(67,70.34),(69,70.6),(71,70.87),(72,70.34),(73,69.01),(75,68.75),(77,68.61),(80,69.01),(82,69.28),(84,68.88),(86,69.81),(88,69.41),(90,69.01),(92,69.54),(94,69.67),(97,70.07),(99,70.34),(101,69.54),(103,69.94),(105,69.01),(107,70.07),(109,69.67),(111,70.34),(114,69.94),(116,70.6),(118,70.34),(120,69.94),(122,69.01),(124,68.75),(126,70.07),(128,70.87),(129,71.53),(130,69.14),(133,68.75),(135,69.28),(136,70.6),(138,72.06)]
c4l_ff = [(0,69.23),(69,69.23),(71,69.81),(73,69.23),(75,69.41),(78,69.01),(80,69.81),(82,68.35),(84,69.54),(86,69.01),(88,69.94),(90,69.14),(92,69.67),(95,69.28),(97,68.35),(99,70.07),(101,69.54),(103,69.94),(105,69.81),(107,70.34),(109,69.94),(111,70.21),(114,70.34),(116,70.07),(118,70.87),(120,70.6),(122,71.21),(138,71.21)]

c4r_fb = [(0,71.19),(69,71.4),(71,71.19),(80,71.53),(81,71.19),(84,71.66),(86,71.13),(88,71.53),(91,71.13),(93,71.4),(95,71.13),(97,71.66),(99,71.27),(101,71.53),(103,71.4),(105,71.53),(107,71.13),(110,71.93),(112,71.4),(114,71.66),(116,71.27),(118,71.8),(120,71.53),(122,72.19),(124,71.4),(126,72.46),(129,71.93),(131,72.73),(133,71.8),(135,72.33),(137,71.93),(139,72.86),(141,72.59),(143,73.52),(146,72.19),(148,72.73),(150,71.4),(152,73.26),(154,72.06),(156,74.05),(158,72.73),(160,73.92),(162,72.33),(165,74.45),(167,73.12),(169,73.79),(171,72.46),(173,74.71),(175,73.52),(177,74.18),(179,72.99),(181,74.32),(184,71.93),(186,73.79),(188,74.58),(190,73.92),(192,74.85),(194,73.39),(196,74.58),(198,74.98),(201,73.79),(203,75.11),(205,74.32),(207,72.19),(209,75.11),(211,74.45),(213,75.91),(215,74.98),(217,73.79),(220,75.64),(222,74.98),(224,74.85),(226,75.78),(228,76.17),(230,75.64),(232,75.91),(234,75.11),(237,76.44),(239,75.91),(241,76.17),(243,75.38),(245,76.04),(247,76.44),(249,74.05),(251,73.52),(253,75.64),(256,76.44),(258,76.17),(260,75.11),(262,75.78),(264,73.39),(266,75.64),(268,76.17),(270,75.11),(272,75.38),(275,75.91),(277,75.64),(279,76.17),(281,73.26),(283,76.17),(285,75.64),(287,76.7),(289,76.44),(292,75.38),(294,73.26),(296,76.84),(298,74.58),(300,74.18)]
c4r_ff = [(0,71.19),(86,71.19),(87,69.8),(88,71.19),(90,71.13),(91,71.53),(93,72.06),(95,71.8),(97,71.13),(98,72.19),(100,71.27),(102,71.93),(104,71.66),(107,71.53),(109,71.93),(111,71.53),(114,71.8),(116,72.06),(118,71.4),(120,71.66),(122,72.19),(124,71.93),(126,72.73),(129,72.33),(131,71.93),(133,73.12),(135,73.52),(137,72.46),(139,74.05),(141,74.85),(143,72.99),(144,75.38),(146,74.18),(148,74.05),(150,75.11),(152,73.39),(154,75.38),(156,74.32),(158,75.64),(160,73.52),(162,75.11),(165,73.92),(167,75.25),(169,76.31),(171,73.79),(173,75.91),(175,74.32),(177,75.78),(179,75.51),(181,76.17),(184,74.45),(186,75.91),(188,74.05),(190,76.44),(192,75.38),(194,75.91),(196,75.38),(198,74.98),(201,75.64),(203,74.45),(205,76.31),(207,75.38),(209,75.91),(211,74.32),(213,75.64),(215,74.45),(217,75.25),(220,76.17),(222,77.1),(224,75.25),(226,76.17),(228,75.38),(230,76.7),(232,75.25),(234,75.91),(237,76.57),(239,78.22),(241,76.17),(243,75.91),(245,77.1),(247,75.11),(249,78.3),(251,76.44),(253,76.84),(256,75.25),(258,78.03),(260,75.38),(262,76.97),(264,77.37),(266,74.98),(268,76.31),(270,77.5),(272,78.03),(275,78.03),(277,76.31),(279,75.11),(281,75.64),(283,77.9),(285,78.03),(287,76.97),(289,74.98),(292,77.9),(294,77.5),(296,78.08),(300,78.16)]

c5l_fb = [(0,70.74),(41,70.74),(42,70.6),(43,70.74),(45,70.5),(46,69.9),(47,67.35),(48,66.96),(49,68.0),(50,69.83),(51,70.05),(53,70.2),(54,69.94),(55,69.51),(57,70.05),(59,70.37),(61,70.48),(63,70.63),(65,70.7),(69,70.7),(73,70.74),(300,70.74)]
c5l_ff = [(0,70.74),(106,70.74),(108,70.85),(110,70.74),(112,70.91),(114,70.74),(116,70.98),(118,70.91),(120,71.34),(122,71.13),(124,71.24),(126,71.56),(128,71.02),(130,71.88),(133,71.24),(135,71.02),(136,72.86),(137,71.45),(138,73.44),(139,71.13),(141,72.1),(143,71.45),(145,71.78),(147,72.32),(148,71.24),(149,73.72),(150,72.96),(152,72.75),(153,73.29),(154,72.96),(155,73.07),(156,72.75),(158,72.96),(160,72.75),(162,72.86),(164,72.53),(166,72.75),(169,72.32),(171,72.64),(173,72.21),(175,72.53),(177,72.32),(179,71.78),(181,72.53),(182,72.1),(184,72.32),(186,72.21),(188,72.53),(190,71.99),(192,72.96),(194,72.32),(196,72.1),(198,72.53),(200,72.32),(203,72.53),(205,71.99),(206,71.17),(208,72.42),(209,72.1),(210,73.72),(211,72.75),(213,72.53),(215,73.07),(217,72.32),(220,71.78),(222,73.29),(224,73.72),(225,73.18),(227,73.72),(229,73.94),(230,73.4),(232,72.75),(234,72.21),(236,72.96),(239,74.04),(241,73.61),(243,74.37),(245,72.42),(246,73.4),(248,74.15),(249,74.15),(250,75.08),(251,74.3),(300,74.3)]

c5r_fb = [(0,69.44),(30,69.44),(31,69.77),(33,67.89),(34,69.29),(35,69.51),(38,67.78),(39,69.83),(41,68.64),(42,69.29),(43,68.86),(45,69.29),(46,69.08),(47,69.62),(49,69.18),(50,69.51),(52,69.29),(53,70.05),(55,69.94),(119,69.94),(120,69.68)]
c5r_ff = [(0,69.44),(63,69.44),(64,69.66),(66,69.44),(71,69.44),(74,68.75),(75,69.44),(80,69.44),(82,70.37),(83,70.41),(85,69.44),(87,69.72),(89,69.98),(91,70.05),(92,68.0),(93,69.94),(95,69.51),(96,69.94),(98,70.37),(99,69.72),(100,70.59),(102,68.0),(103,70.05),(105,69.72),(107,70.05),(110,69.29),(111,68.64),(113,69.72),(114,70.37),(116,69.94),(118,70.16),(120,69.83),(122,69.62)]

# legend placement per panel, row by row (left, right)
glass_legend_locs = ['upper left', 'upper left', 'upper left', 'lower left', 'upper right', 'upper left',
                     'upper right', 'upper right', 'upper right', 'upper right']
car_legend_locs = ['upper left', 'upper right', 'upper right', 'upper right', 'upper right', 'upper right',
                   'upper right', 'upper left', 'upper left', 'upper right']

glass_panels = [(g1l_fb, g1l_ff), (g1r_fb, g1r_ff), (g2l_fb, g2l_ff), (g2r_fb, g2r_ff),
                (g3l_fb, g3l_ff), (g3r_fb, g3r_ff), (g4l_fb, g4l_ff), (g4r_fb, g4r_ff),
                (g5l_fb, g5l_ff), (g5r_fb, g5r_ff)]
car_panels = [(c1l_fb, c1l_ff), (c1r_fb, c1r_ff), (c2l_fb, c2l_ff), (c2r_fb, c2r_ff),
              (c3l_fb, c3l_ff), (c3r_fb, c3r_ff), (c4l_fb, c4l_ff), (c4r_fb, c4r_ff),
              (c5l_fb, c5l_ff), (c5r_fb, c5r_ff)]

fig = plt.figure(figsize=(W / 100, H / 100), dpi=100)


def px_rect(x0, y0, x1, y1):
    return [x0 / W, 1 - y1 / H, (x1 - x0) / W, (y1 - y0) / H]


def draw_block(panels, locs, top, left, mid, right, title, title_y):
    row_h = 138
    first = None
    axes = []
    for r in range(5):
        y0 = top + r * row_h
        axl = fig.add_axes(px_rect(left, y0, mid, y0 + row_h), sharex=first)
        if first is None:
            first = axl
        axr = fig.add_axes(px_rect(mid, y0, right, y0 + row_h), sharex=first, sharey=axl)
        axes += [axl, axr]
    for i, (ax, (fb, ff), loc) in enumerate(zip(axes, panels, locs)):
        fb = np.array(fb)
        ff = np.array(ff)
        ax.plot(fb[:, 0], fb[:, 1], color='red', lw=0.8, label='FF+FB')
        ax.plot(ff[:, 0], ff[:, 1], color='blue', lw=0.8, label='FF')
        ax.grid(True)
        ax.legend(loc=loc, frameon=False)
        ax.set_xlim(-15, 315)
        ax.set_xticks([0, 50, 100, 150, 200, 250, 300])
        if i < 8:
            ax.tick_params(labelbottom=False)
        if i % 2 == 1:
            ax.tick_params(labelleft=False)
    axes[7].text(0.5, 13 / 138, 'Epochs', transform=axes[7].transAxes,
                 ha='center', va='center', fontsize=10.7)
    fig.text(578 / W, 1 - title_y / H, title, ha='center', va='center', fontsize=11.2)
    mid_y = top + 5 * row_h / 2
    fig.text(18 / W, 1 - mid_y / H, 'Train acc.(log scale)', rotation=90,
             ha='center', va='center', fontsize=10.5)
    fig.text(589 / W, 1 - (top + 5 * row_h + 42) / H, 'Epochs', ha='center', va='center',
             fontsize=9.2)


draw_block(glass_panels, glass_legend_locs, 34, 61, 591, 1121,
           'glass dataset using g:0.065, η:0.1, max. accuracy: 52.0%', 18)
draw_block(car_panels, car_legend_locs, 817, 73, 597.5, 1122,
           'car dataset using g:0.2, η:0.01, max. accuracy: 73.0%', 801)

fig.savefig('out.png', dpi=100)
